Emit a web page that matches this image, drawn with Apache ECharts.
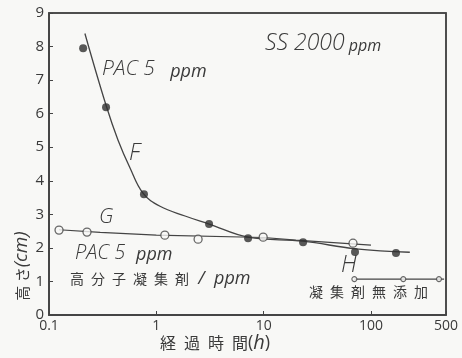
<!DOCTYPE html>
<html>
<head>
<meta charset="utf-8">
<script src="https://cdn.jsdelivr.net/npm/echarts@6/dist/echarts.min.js"></script>
<style>
html,body{margin:0;padding:0;background:#f8f8f6;}
#c{width:462px;height:358px;background:#f8f8f6;}
</style>
</head>
<body>
<div id="c"></div>
<script>
// ---- data ----
var fPointsX = [0.208, 0.34, 0.767, 3.1, 7.16, 23.3, 71, 171];
var fPointsY = [7.95, 6.19, 3.6, 2.71, 2.29, 2.17, 1.875, 1.85];
var fCurveX = [0.216, 0.34, 0.44, 0.569, 0.751, 1.083, 1.852, 3.1, 7.16, 23.3, 72.5, 230];
var fCurveY = [8.39, 6.25, 5.21, 4.38, 3.63, 3.24, 2.95, 2.71, 2.32, 2.2, 1.97, 1.87];
var gPointsX = [0.124, 0.226, 1.2, 2.45, 9.9, 68];
var gPointsY = [2.53, 2.47, 2.38, 2.26, 2.32, 2.14];
var gLineX = [0.124, 0.3, 1, 10, 20, 100];
var gLineY = [2.54, 2.46, 2.38, 2.31, 2.23, 2.08];
var hX = [70, 200, 430];
var hY = [1.07, 1.07, 1.07];
var hLineX = [70, 480];
var hLineY = [1.07, 1.07];
var yTicks = [0, 1, 2, 3, 4, 5, 6, 7, 8, 9];
var xTickLabels = ['0.1', '1', '10', '100', '500'];
var xMin = 0.1, xMax = 500, yMin = 0, yMax = 9;

function zip(a, b) { return a.map(function (v, i) { return [v, b[i]]; }); }

var W = 462, H = 358;
var gridBox = {left: 49, right: 16, top: 13, bottom: 43};
var ink = '#3a3a3a';
var axisInk = '#444';
var font = '"Open Sans", "Liberation Sans", sans-serif';
var cjk = '"Noto Sans CJK JP", sans-serif';
var sp = '\u2002';
function spaced(s) { return s.split('').join(sp); }

var chart = echarts.init(document.getElementById('c'), null, {renderer: 'canvas'});
chart.setOption({
  animation: false,
  grid: {left: gridBox.left, right: gridBox.right, top: gridBox.top, bottom: gridBox.bottom,
         show: true, borderColor: axisInk, borderWidth: 1.5},
  xAxis: {
    type: 'log', logBase: 10, min: xMin, max: xMax,
    axisLine: {show: true, lineStyle: {color: axisInk, width: 1.5}},
    axisTick: {inside: true, length: 4, lineStyle: {color: axisInk}},
    minorTick: {show: false},
    splitLine: {show: false},
    axisLabel: {
      color: ink, fontFamily: font, fontSize: 14, margin: 4,
      formatter: function (v) {
        var s = String(+Number(v).toPrecision(3));
        return xTickLabels.indexOf(s) >= 0 ? s : '';
      }
    }
  },
  yAxis: {
    type: 'value', min: yMin, max: yMax, interval: 1,
    axisLine: {show: true, lineStyle: {color: axisInk, width: 1.5}},
    axisTick: {show: true, inside: true, length: 4, lineStyle: {color: axisInk}},
    splitLine: {show: false},
    axisLabel: {
      color: ink, fontFamily: font, fontSize: 15, margin: 5,
      formatter: function (v) { return yTicks.indexOf(v) >= 0 ? String(v) : ''; }
    }
  },
  series: [
    {type: 'line', data: zip(fCurveX, fCurveY), smooth: 0.4, showSymbol: false, symbol: 'none',
     lineStyle: {color: '#444', width: 1.3}, z: 2},
    {type: 'line', data: zip(gLineX, gLineY), smooth: false, showSymbol: false, symbol: 'none',
     lineStyle: {color: '#444', width: 1.2}, z: 2},
    {type: 'line', data: zip(hLineX, hLineY), showSymbol: false, symbol: 'none',
     lineStyle: {color: '#444', width: 1.2}, z: 2},
    {type: 'scatter', data: zip(fPointsX, fPointsY), symbol: 'circle', symbolSize: 8,
     itemStyle: {color: '#2f2f2f'}, z: 4},
    {type: 'scatter', data: zip(gPointsX, gPointsY), symbol: 'circle', symbolSize: 8,
     itemStyle: {color: '#f8f8f6', borderColor: '#444', borderWidth: 1.3}, z: 4},
    {type: 'scatter', data: zip(hX, hY), symbol: 'circle', symbolSize: 5,
     itemStyle: {color: '#f8f8f6', borderColor: '#444', borderWidth: 1.1}, z: 4}
  ],
  graphic: [
    {type: 'rect', silent: true, z: 10,
     shape: {x: gridBox.left, y: gridBox.top,
             width: W - gridBox.left - gridBox.right, height: H - gridBox.top - gridBox.bottom},
     style: {fill: 'rgba(0,0,0,0)', stroke: axisInk, lineWidth: 1.5}},
    {type: 'text', left: 265, top: 32, style: {
      text: '{a|SS 2000}{b| ppm}',
      rich: {
        a: {fontSize: 23, fontStyle: 'italic', fontFamily: font, fill: ink, fontWeight: 300},
        b: {fontSize: 16, fontStyle: 'italic', fontFamily: font, fill: ink, padding: [5, 0, 0, 0]}
      }}},
    {type: 'text', left: 102, top: 59, style: {
      text: '{a|PAC 5}{b|  ppm}',
      rich: {
        a: {fontSize: 21, fontStyle: 'italic', fontFamily: font, fill: ink, fontWeight: 300},
        b: {fontSize: 18, fontStyle: 'italic', fontFamily: font, fill: ink, padding: [4, 0, 0, 6]}
      }}},
    {type: 'text', left: 129, top: 142, style: {text: 'F', fontSize: 23, fontStyle: 'italic', fontFamily: font, fill: ink, fontWeight: 300}},
    {type: 'text', left: 99, top: 207, style: {text: 'G', fontSize: 21, fontStyle: 'italic', fontFamily: font, fill: ink, fontWeight: 300}},
    {type: 'text', left: 75, top: 243, style: {
      text: '{a|PAC 5}{b| ppm}',
      rich: {
        a: {fontSize: 20, fontStyle: 'italic', fontFamily: font, fill: ink, fontWeight: 300},
        b: {fontSize: 18, fontStyle: 'italic', fontFamily: font, fill: ink, padding: [4, 0, 0, 6]}
      }}},
    {type: 'text', left: 70, top: 270, style: {
      text: '{a|' + spaced('高分子凝集剤') + '}{b|  /  ppm}',
      rich: {
        a: {fontSize: 14, fontFamily: cjk, fill: ink},
        b: {fontSize: 18, fontStyle: 'italic', fontFamily: font, fill: ink}
      }}},
    {type: 'text', left: 341, top: 254, style: {text: 'H', fontSize: 23, fontStyle: 'italic', fontFamily: font, fill: ink, fontWeight: 300}},
    {type: 'text', left: 309, top: 285, style: {text: spaced('凝集剤無添加'), fontSize: 14, fontFamily: cjk, fill: ink}},
    {type: 'text', left: 160, top: 333, style: {
      text: '{a|' + spaced('経過時間') + '}{b|(}{c|h}{b|)}',
      rich: {
        a: {fontSize: 16, fontFamily: cjk, fill: ink},
        b: {fontSize: 18, fontFamily: font, fill: ink},
        c: {fontSize: 20, fontStyle: 'italic', fontFamily: font, fill: ink}
      }}},
    {type: 'text', x: 22, y: 266, rotation: Math.PI / 2, style: {
      text: '{a|高 さ}{b|(cm)}', align: 'center', verticalAlign: 'middle',
      rich: {
        a: {fontSize: 15, fontFamily: cjk, fill: ink},
        b: {fontSize: 19, fontStyle: 'italic', fontFamily: font, fill: ink}
      }}}
  ]
});
</script>
</body>
</html>
